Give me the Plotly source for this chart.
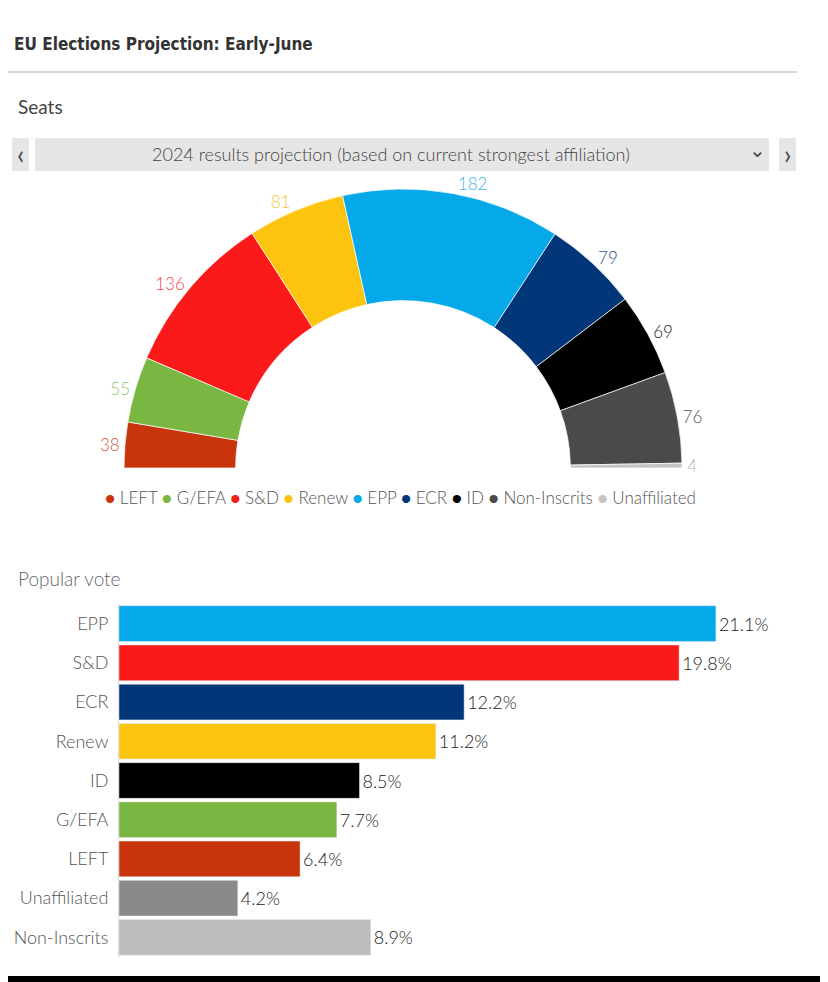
import plotly.graph_objects as go

# --- données ---
seat_groups = ['LEFT', 'G/EFA', 'S&D', 'Renew', 'EPP', 'ECR', 'ID', 'Non-Inscrits', 'Unaffiliated']
seats = [38, 55, 136, 81, 182, 79, 69, 76, 4]
seat_colors = ['#c8350c', '#7ab642', '#fb1a1a', '#fdc40f', '#05a8e8', '#013779', '#000000', '#4a4a4a', '#c4c4c4']
seat_label_colors = ['#d0573a', '#8fc46a', '#f04848', '#f5c43a', '#3fb4e6', '#1f4a86', '#222222', '#555555', '#bbbbbb']

vote_groups = ['EPP', 'S&D', 'ECR', 'Renew', 'ID', 'G/EFA', 'LEFT', 'Unaffiliated', 'Non-Inscrits']
vote_share = [21.1, 19.8, 12.2, 11.2, 8.5, 7.7, 6.4, 4.2, 8.9]
vote_colors = ['#05a8e8', '#fb1a1a', '#013779', '#fdc40f', '#000000', '#7ab642', '#c8350c', '#8a8a8a', '#bcbcbc']

# la page a une marge de 8px : la figure commence à (8, 8)
OFF = 8
W, H = 828, 982
FONT = 'Lato'
TITLE_FONT = 'DejaVu Sans Condensed, Roboto, sans-serif'


def px(x):
    return (x - OFF) / W


def py(y):
    return 1 - (y - OFF) / H


fig = go.Figure()

# hémicycle : une part invisible égale au total remplit la moitié basse
total = sum(seats)
fig.add_trace(go.Pie(
    labels=seat_groups + ['_hidden'],
    values=seats + [total],
    sort=False,
    direction='clockwise',
    rotation=-90,
    hole=0.6,
    marker=dict(colors=seat_colors + ['rgba(0,0,0,0)'],
                line=dict(color=['#ffffff'] * len(seats) + ['rgba(0,0,0,0)'], width=0.7)),
    text=[str(s) for s in seats] + [''],
    textinfo='text',
    textposition='outside',
    textfont=dict(family=FONT, size=17, weight=300, color=seat_label_colors + ['rgba(0,0,0,0)']),
    domain=dict(x=[px(124), px(682)], y=[py(747), py(189)]),
    showlegend=False,
    hoverinfo='skip',
))

# vote populaire
fig.add_trace(go.Bar(
    y=vote_groups,
    x=vote_share,
    orientation='h',
    marker=dict(color=vote_colors),
    text=[f'{v}%' for v in vote_share],
    textposition='outside',
    textfont=dict(family=FONT, size=18, weight=300, color='#222222'),
    cliponaxis=False,
    showlegend=False,
    xaxis='x', yaxis='y',
))

fig.update_layout(
    width=W, height=H,
    margin=dict(l=0, r=0, t=0, b=0),
    paper_bgcolor='white', plot_bgcolor='white',
    font=dict(family=FONT, color='#555555'),
    bargap=0.09,
    xaxis=dict(domain=[px(119), px(800)], range=[0, (800 - 119) / 28.29],
               visible=False, fixedrange=True),
    yaxis=dict(domain=[py(957), py(604)], autorange='reversed',
               showline=True, linecolor='#dddddd', linewidth=1,
               ticks='', ticklabelstandoff=6,
               tickfont=dict(family=FONT, size=18, weight=300, color='#555555')),
)

# légende de l'hémicycle
legend_txt = ' '.join(
    f'<span style="color:{c}">●</span> {g}' for g, c in zip(seat_groups, seat_colors))

annots = [
    dict(x=px(12), y=py(44), text='<b>EU Elections Projection: Early-June</b>',
         font=dict(family=TITLE_FONT, size=17, color='#333333'), xanchor='left'),
    dict(x=px(16), y=py(107), text='Seats', font=dict(family=FONT, size=19, color='#444444'),
         xanchor='left'),
    dict(x=px(391), y=py(154), text='2024 results projection (based on current strongest affiliation)',
         font=dict(family=FONT, size=18, weight=300, color='#444444'), xanchor='center'),
    dict(x=px(20), y=py(154), text='‹', font=dict(family=FONT, size=26, color='#444444'),
         xanchor='center'),
    dict(x=px(787), y=py(154), text='›', font=dict(family=FONT, size=26, color='#444444'),
         xanchor='center'),
    dict(x=px(757), y=py(150), text='⌄', font=dict(family='DejaVu Sans', size=20, color='#444444'),
         xanchor='center'),
    dict(x=px(400), y=py(497), text=legend_txt, font=dict(family=FONT, size=17, weight=300, color='#555555'),
         xanchor='center'),
    dict(x=px(16), y=py(578), text='Popular vote', font=dict(family=FONT, size=19, weight=300, color='#666666'),
         xanchor='left'),
]
for a in annots:
    a.update(xref='paper', yref='paper', yanchor='middle', showarrow=False)
fig.update_layout(annotations=annots)

shapes = [
    dict(type='line', x0=px(8), x1=px(797), y0=py(72), y1=py(72), line=dict(color='#cccccc', width=1.5)),
    dict(type='rect', x0=px(12), x1=px(29), y0=py(171), y1=py(138), fillcolor='#e6e6e6', line=dict(width=0)),
    dict(type='rect', x0=px(35), x1=px(769), y0=py(171), y1=py(138), fillcolor='#e6e6e6', line=dict(width=0)),
    dict(type='rect', x0=px(779), x1=px(796), y0=py(171), y1=py(138), fillcolor='#e6e6e6', line=dict(width=0)),
    dict(type='rect', x0=0, x1=1, y0=0, y1=py(976), fillcolor='#000000', line=dict(width=0)),
]
for s in shapes:
    s.update(xref='paper', yref='paper', layer='below')
shapes[-1]['layer'] = 'above'
fig.update_layout(shapes=shapes)

fig.write_html('out.html')
